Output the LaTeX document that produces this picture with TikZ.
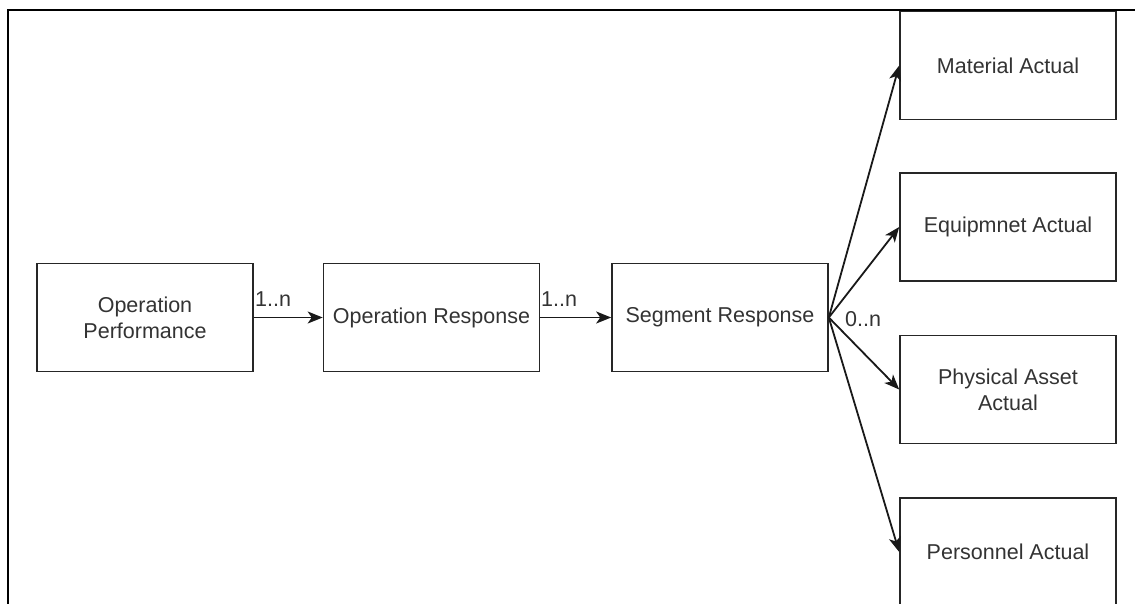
\documentclass[tikz,border=0pt]{standalone}
\usepackage{fontspec}
\setmainfont{Liberation Sans}
\usetikzlibrary{arrows.meta}
\definecolor{txt}{HTML}{333333}
\tikzset{
  box/.style={draw=black!85, line width=1.6pt, fill=white, minimum width=216pt, minimum height=108pt, inner sep=0pt, align=center, text=txt, font=\fontsize{21.5}{26}\selectfont},
  lbl/.style={text=txt, inner sep=0pt, font=\fontsize{21.5}{26}\selectfont},
  conn/.style={draw=black!90, line width=1.8pt, -{Stealth[length=15pt,width=12pt,inset=4pt]}},
  frame/.style={draw=black, line width=2.6pt}
}
\begin{document}
\begin{tikzpicture}[x=1pt,y=-1pt]
\useasboundingbox (0,0) rectangle (1135,603);
\coordinate (f1) at (1140,10);
\coordinate (f2) at (8,10);
\coordinate (f3) at (8,610);
\draw[frame] (f1) -- (f2) -- (f3);
\node[box] (op) at (145,317.5) {Operation\\Performance};
\node[box] (or) at (431.5,317.5) {Operation Response};
\node[box] (sr) at (720,317.5) {Segment Response};
\node[box] (ma) at (1008,65.5) {Material Actual};
\node[box] (ea) at (1008,227) {Equipmnet Actual};
\node[box] (pa) at (1008,389.5) {Physical Asset\\Actual};
\node[box] (pe) at (1008,552) {Personnel Actual};
\draw[conn] (op.east) -- (or.west);
\draw[conn] (or.east) -- (sr.west);
\draw[conn] (sr.east) -- (ma.west);
\draw[conn] (sr.east) -- (ea.west);
\draw[conn] (sr.east) -- (pa.west);
\draw[conn] (sr.east) -- (pe.west);
\node[lbl, anchor=base west] (l1) at (255,306) {1..n};
\node[lbl, anchor=base west] (l2) at (541,306) {1..n};
\node[lbl, anchor=base west] (l3) at (845,326) {0..n};
\end{tikzpicture}
\end{document}
